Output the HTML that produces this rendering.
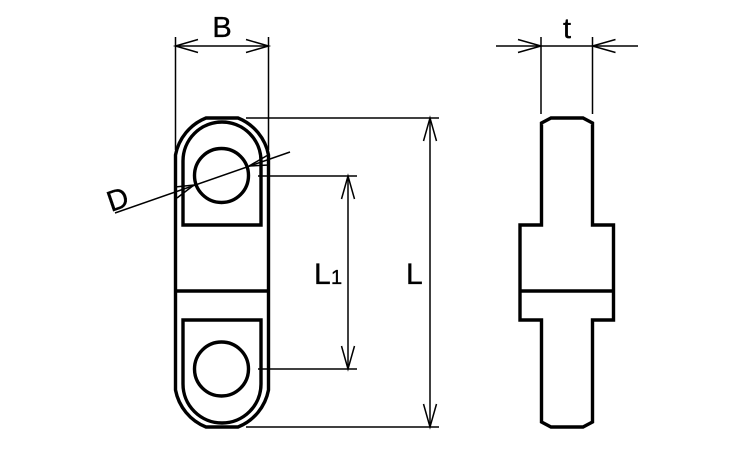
<!DOCTYPE html>
<html>
<head>
<meta charset="utf-8">
<style>
html,body{margin:0;padding:0;background:#fff;width:750px;height:450px;overflow:hidden}
svg{display:block}
text{font-family:"Liberation Sans",sans-serif;fill:#000;stroke:#000;stroke-width:.35}
</style>
</head>
<body>
<svg width="750" height="450" viewBox="0 0 750 450" xmlns="http://www.w3.org/2000/svg">
<g fill="none" stroke="#000" stroke-width="3.400" stroke-linejoin="miter">
  <path d="M175.500 155 A50 50 0 0 1 206 118 H238 A50 50 0 0 1 268.500 155 V390 A50 50 0 0 1 238 427 H206 A50 50 0 0 1 175.500 390 Z"/>
  <path d="M175.500 291 H268.500"/>
  <path d="M183 225 V161 A39 39 0 0 1 261 161 V225 Z"/>
  <path d="M183 320 V384 A39 39 0 0 0 261 384 V320 Z"/>
  <circle cx="221.500" cy="175.500" r="27"/>
  <circle cx="221.500" cy="369" r="27"/>
  <path d="M541.500 123 L551 118 H583 L592.500 123 V225 H613.500 V320 H592.500 V422 L583 427 H551 L541.500 422 V320 H520 V225 H541.500 Z"/>
  <path d="M520 291 H613.500"/>
</g>
<g fill="none" stroke="#000" stroke-width="1.500">
  <path d="M175.500 37 V150 M268.500 37 V150 M175.500 46 H268.500"/>
  <path d="M198 39.500 L175.500 46 L198 52.500 M246 39.500 L268.500 46 L246 52.500"/>
  <path d="M541 37 V114 M592.500 37 V114 M496 46 H638"/>
  <path d="M518 39.500 L541 46 L518 52.500 M615.500 39.500 L592.500 46 L615.500 52.500"/>
  <path d="M246 118 H439 M246 427 H439 M430 118 V427"/>
  <path d="M423.500 141 L430 118 L436.500 141 M423.500 404 L430 427 L436.500 404"/>
  <path d="M258 176 H357 M258 369 H357 M348 176 V369"/>
  <path d="M341.500 199 L348 176 L354.500 199 M341.500 346 L348 369 L354.500 346"/>
  <path d="M115 213 L290 152"/>
  <path d="M175 187 L194 185 L177 198 M268 155 L249 166 L269 165"/>
</g>
<text x="222" y="37" font-size="29" text-anchor="middle">B</text>
<text x="567" y="38" font-size="29" text-anchor="middle">t</text>
<text x="314" y="284" font-size="30">L</text>
<text x="331" y="284" font-size="20">1</text>
<text x="406" y="284" font-size="30">L</text>
<text x="0" y="0" font-size="29" transform="translate(111 212) rotate(-19)">D</text>
</svg>
</body>
</html>
